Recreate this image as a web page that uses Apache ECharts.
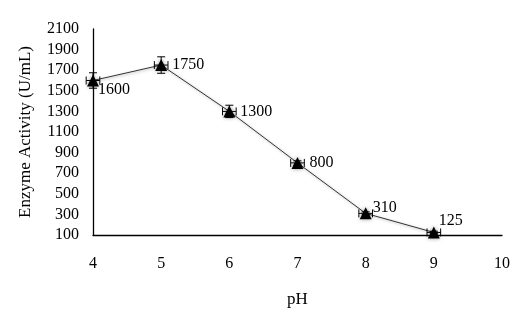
<!DOCTYPE html>
<html><head><meta charset="utf-8">
<script src="https://cdn.jsdelivr.net/npm/echarts@6/dist/echarts.min.js"></script>
<style>html,body{margin:0;padding:0;background:#fff}#c{width:531px;height:313px}</style>
</head><body><div id="c"></div>
<script>
const phValues = [4, 5, 6, 7, 8, 9];
const activity = [1600, 1750, 1300, 800, 310, 125];
const yErr = [75, 80, 60, 20, 15, 12];
const xErr = [0.1, 0.1, 0.1, 0.1, 0.1, 0.1];
const yTicks = [100, 300, 500, 700, 900, 1100, 1300, 1500, 1700, 1900, 2100];
const xTicks = [4, 5, 6, 7, 8, 9, 10];
const labelOffsets = [[-6, 9], [0, 0], [0, 0], [1, 0], [-4, -6], [-6, -12]];

const font = '"Liberation Serif", "Times New Roman", serif';
const chart = echarts.init(document.getElementById('c'));
const pts = phValues.map((x, i) => [x, activity[i]]);
const errData = phValues.map((x, i) => [x, activity[i], yErr[i], xErr[i]]);

chart.setOption({
  animation: false,
  grid: { left: 93, right: 29, top: 29, bottom: 73 },
  xAxis: {
    type: 'value', min: xTicks[0], max: xTicks[xTicks.length - 1], interval: 1,
    name: 'pH', nameLocation: 'middle', nameGap: 56,
    nameTextStyle: { fontFamily: font, fontSize: 17, color: '#000' },
    axisLine: { lineStyle: { color: '#000', width: 1.3 } },
    axisTick: { show: false },
    axisLabel: { fontFamily: font, fontSize: 16, color: '#000', margin: 21, formatter: v => String(v) },
    splitLine: { show: false }
  },
  yAxis: {
    type: 'value', min: yTicks[0], max: yTicks[yTicks.length - 1], interval: 200,
    name: 'Enzyme Activity (U/mL)', nameLocation: 'middle', nameGap: 59,
    nameTextStyle: { fontFamily: font, fontSize: 17, color: '#000' },
    axisLine: { show: true, lineStyle: { color: '#000', width: 1.3 } },
    axisTick: { show: false },
    axisLabel: { fontFamily: font, fontSize: 16, color: '#000', margin: 14, formatter: v => String(v) },
    splitLine: { show: false }
  },
  series: [
    {
      type: 'line', data: pts, symbol: 'triangle', symbolSize: 12,
      lineStyle: { color: '#333', width: 1, shadowColor: 'rgba(0,0,0,0.35)', shadowBlur: 3, shadowOffsetX: 1, shadowOffsetY: 1 },
      itemStyle: { color: '#000', shadowColor: 'rgba(0,0,0,0.4)', shadowBlur: 4 },
      label: {
        show: true, position: 'right', fontFamily: font, fontSize: 16, color: '#000',
        formatter: p => String(activity[p.dataIndex])
      },
      labelLayout: p => ({ dx: labelOffsets[p.dataIndex][0], dy: labelOffsets[p.dataIndex][1] }),
      z: 3
    },
    {
      type: 'custom', data: errData, z: 4,
      renderItem: function (params, api) {
        const x = api.value(0), y = api.value(1), ey = api.value(2), ex = api.value(3);
        const top = api.coord([x, y + ey]);
        const bot = api.coord([x, y - ey]);
        const left = api.coord([x - ex, y]);
        const right = api.coord([x + ex, y]);
        const c = 4, ls = { stroke: '#000', lineWidth: 1 };
        return {
          type: 'group', children: [
            { type: 'line', shape: { x1: top[0], y1: top[1], x2: bot[0], y2: bot[1] }, style: ls },
            { type: 'line', shape: { x1: top[0] - c, y1: top[1], x2: top[0] + c, y2: top[1] }, style: ls },
            { type: 'line', shape: { x1: bot[0] - c, y1: bot[1], x2: bot[0] + c, y2: bot[1] }, style: ls },
            { type: 'line', shape: { x1: left[0], y1: left[1], x2: right[0], y2: right[1] }, style: ls },
            { type: 'line', shape: { x1: left[0], y1: left[1] - c, x2: left[0], y2: left[1] + c }, style: ls },
            { type: 'line', shape: { x1: right[0], y1: right[1] - c, x2: right[0], y2: right[1] + c }, style: ls }
          ]
        };
      }
    }
  ]
});
</script></body></html>
